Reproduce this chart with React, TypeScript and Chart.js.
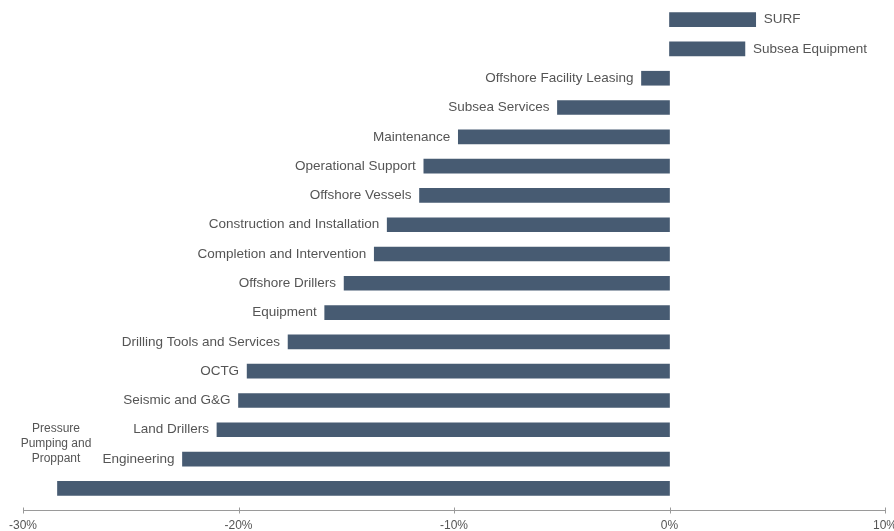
import { useEffect, useRef } from 'react';
import { Chart, registerables, Plugin } from 'chart.js';

Chart.register(...registerables);

const categories = [
    'SURF',
    'Subsea Equipment',
    'Offshore Facility Leasing',
    'Subsea Services',
    'Maintenance',
    'Operational Support',
    'Offshore Vessels',
    'Construction and Installation',
    'Completion and Intervention',
    'Offshore Drillers',
    'Equipment',
    'Drilling Tools and Services',
    'OCTG',
    'Seismic and G&G',
    'Land Drillers',
    'Engineering',
    'Pressure Pumping and Proppant',
];

// change in %
const values = [4.0, 3.5, -1.3, -5.2, -9.8, -11.4, -11.6, -13.1, -13.7, -15.1, -16.0, -17.7, -19.6, -20.0, -21.0, -22.6, -28.4];

// labels that are drawn on several lines
const wrappedLabels: Record<string, string[]> = {
    'Pressure Pumping and Proppant': ['Pressure', 'Pumping and', 'Proppant'],
};

const axisMin = -30;
const axisMax = 10;
const axisStep = 10;

const BAR_COLOR = '#475b72';
const TEXT_COLOR = '#555555';
const FAMILY = '"Liberation Sans", Arial, sans-serif';

const barLabels: Plugin<'bar'> = {
    id: 'barLabels',
    afterDatasetsDraw(chart) {
        const { ctx } = chart;
        const meta = chart.getDatasetMeta(0);
        const xScale = chart.scales.x;
        ctx.save();
        ctx.fillStyle = TEXT_COLOR;
        ctx.textBaseline = 'middle';
        meta.data.forEach((bar, i) => {
            const name = categories[i];
            const v = values[i];
            const { x, y } = bar.getProps(['x', 'y'], true) as { x: number; y: number };
            const lines = wrappedLabels[name];
            if (lines) {
                // no room left of the bar: stack it above, at the left edge
                ctx.font = `12px ${FAMILY}`;
                ctx.textAlign = 'center';
                const cx = xScale.getPixelForValue(axisMin) + 33;
                lines.forEach((line, k) => {
                    ctx.fillText(line, cx, y - 60 + k * 15);
                });
                return;
            }
            ctx.font = `13.5px ${FAMILY}`;
            if (v < 0) {
                ctx.textAlign = 'right';
                ctx.fillText(name, x - 8, y);
            } else {
                ctx.textAlign = 'left';
                ctx.fillText(name, x + 8, y);
            }
        });
        ctx.restore();
    },
};

const axisLine: Plugin<'bar'> = {
    id: 'axisLine',
    afterDraw(chart) {
        const { ctx } = chart;
        const x = chart.scales.x;
        const y = Math.round(x.top + 7) + 0.5;
        ctx.save();
        ctx.strokeStyle = '#9a9a9a';
        ctx.lineWidth = 1;
        ctx.beginPath();
        ctx.moveTo(x.left, y);
        ctx.lineTo(x.right, y);
        x.ticks.forEach((_, i) => {
            const px = Math.round(x.getPixelForTick(i)) + 0.5;
            ctx.moveTo(px, y - 3);
            ctx.lineTo(px, y + 3);
        });
        ctx.stroke();
        ctx.restore();
    },
};

function App() {
    const canvasRef = useRef<HTMLCanvasElement>(null);

    useEffect(() => {
        document.body.style.margin = '0';
        if (!canvasRef.current) return;
        const chart = new Chart(canvasRef.current, {
            type: 'bar',
            data: {
                labels: categories,
                datasets: [{
                    data: values,
                    backgroundColor: BAR_COLOR,
                    borderWidth: 0,
                    barThickness: 14,
                }],
            },
            options: {
                indexAxis: 'y',
                animation: false,
                responsive: false,
                maintainAspectRatio: false,
                layout: { padding: { left: 14.5, right: 25, top: 5, bottom: -10 } },
                plugins: {
                    legend: { display: false },
                    tooltip: { enabled: false },
                },
                scales: {
                    y: {
                        type: 'category',
                        display: false,
                    },
                    x: {
                        type: 'linear',
                        min: axisMin,
                        max: axisMax,
                        grid: { display: false },
                        border: { display: false },
                        ticks: {
                            stepSize: axisStep,
                            padding: 9,
                            color: TEXT_COLOR,
                            font: { family: FAMILY, size: 12, lineHeight: 1 },
                            callback: (v) => `${v}%`,
                        },
                    },
                },
            },
            plugins: [barLabels, axisLine],
        });
        return () => chart.destroy();
    }, []);

    return (
        <div style={{ width: 894, height: 531, overflow: 'hidden', background: '#fff' }}>
            <canvas ref={canvasRef} width={910} height={531} style={{ display: 'block' }} />
        </div>
    );
}

export default App;
